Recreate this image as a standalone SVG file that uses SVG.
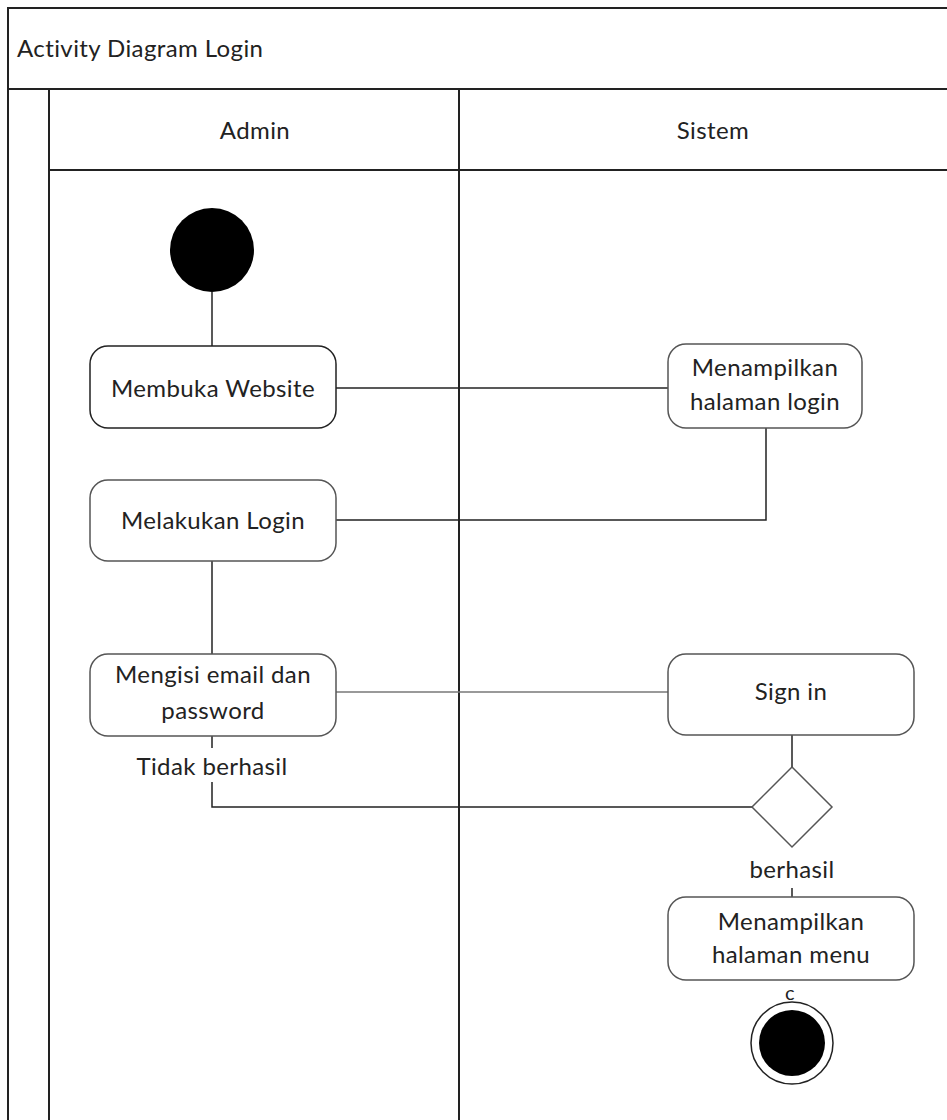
<svg xmlns="http://www.w3.org/2000/svg" width="947" height="1120" viewBox="0 0 947 1120">
<style>
text{font-family:Lato,"Open Sans",sans-serif;fill:#222;font-size:24px;letter-spacing:0.4px;text-anchor:middle}
.frame{fill:none;stroke:#222;stroke-width:2}
.node{fill:#fff;stroke:#555;stroke-width:1.5}
.dark{stroke:#222}
.conn{fill:none;stroke:#222;stroke-width:1.5}
</style>
<rect width="947" height="1120" fill="#fff"/>
<g id="pool">
<path class="frame" d="M8 1120V8H948M8 89H948M49 89V1120M459 89V1120M49 170H948"/>
<text x="17" y="57" style="text-anchor:start">Activity Diagram Login</text>
<text x="255" y="139">Admin</text>
<text x="713" y="139">Sistem</text>
</g>
<g id="connectors">
<path class="conn" d="M212 292V347"/>
<path class="conn" d="M336 388H668"/>
<path class="conn" d="M766 428V520H336"/>
<path class="conn" d="M212 561V654"/>
<path class="conn" d="M336 692H668" style="stroke:#777"/>
<path class="conn" d="M792 735V767"/>
<path class="conn" d="M212 736V748M212 782V807H752"/>
<path class="conn" d="M792 888V897"/>
<text x="212" y="775">Tidak berhasil</text>
<text x="792" y="878">berhasil</text>
<text x="790" y="1000" style="font-size:20px">c</text>
</g>
<g id="start"><circle cx="212" cy="250" r="42" fill="#000"/></g>
<g id="membuka"><rect class="node dark" x="90" y="346" width="246" height="82" rx="18"/><text x="213" y="397">Membuka Website</text></g>
<g id="tampil-login"><rect class="node" x="668" y="344" width="194" height="84" rx="18"/><text x="765" y="376">Menampilkan</text><text x="765" y="410">halaman login</text></g>
<g id="login"><rect class="node" x="90" y="480" width="246" height="81" rx="18"/><text x="213" y="529">Melakukan Login</text></g>
<g id="mengisi"><rect class="node" x="90" y="654" width="246" height="82" rx="18"/><text x="213" y="683">Mengisi email dan</text><text x="213" y="719">password</text></g>
<g id="signin"><rect class="node" x="668" y="654" width="246" height="81" rx="18"/><text x="791" y="700">Sign in</text></g>
<g id="decision"><path class="node" d="M792 767L832 807L792 847L752 807Z"/></g>
<g id="tampil-menu"><rect class="node" x="668" y="897" width="246" height="83" rx="18"/><text x="791" y="930">Menampilkan</text><text x="791" y="963">halaman menu</text></g>
<g id="end"><circle cx="792" cy="1043" r="41" fill="#fff" stroke="#222" stroke-width="1.5"/><circle cx="792" cy="1043" r="33" fill="#000"/></g>
</svg>
